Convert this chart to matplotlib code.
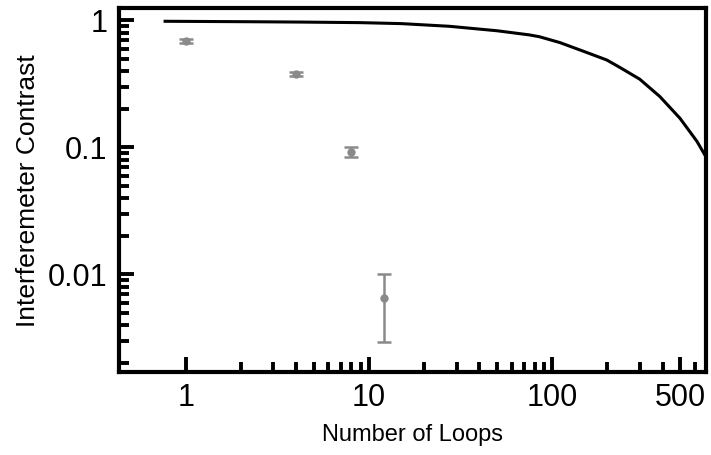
import matplotlib
matplotlib.use('Agg')
import matplotlib.pyplot as plt
from matplotlib.ticker import FixedLocator, NullFormatter

plt.rcParams['font.family'] = ['Liberation Sans', 'DejaVu Sans']

# measured contrast vs number of loops
loops = [1, 4, 8, 12]
contrast = [0.69, 0.379, 0.0927, 0.00656]
contrast_err = [0.022, 0.012, 0.008, 0.0036]

# theory curve
curve_x = [0.77, 2.2, 4.2, 8.9, 15, 27.5, 50, 75, 85, 110, 150, 198, 233,
           300, 386, 497, 615, 689, 720]
curve_y = [0.986, 0.978, 0.972, 0.962, 0.945, 0.90, 0.83, 0.77, 0.745, 0.67,
           0.568, 0.489, 0.428, 0.345, 0.252, 0.170, 0.112, 0.0845, 0.075]

x_major = [1, 10, 100, 500]
x_major_labels = ['1', '10', '100', '500']
y_major = [0.01, 0.1, 1]
y_major_labels = ['0.01', '0.1', '1']

fig = plt.figure(figsize=(7.11, 4.55), dpi=100)
ax = fig.add_axes([0.167, 0.182, 0.826, 0.800])

ax.plot(curve_x, curve_y, color='black', lw=2.2, solid_joinstyle='round')
ax.errorbar(loops, contrast, yerr=contrast_err, fmt='o', color='#8a8a8a',
            ms=5, elinewidth=1.8, capsize=5, capthick=1.8)

ax.set_xscale('log')
ax.set_yscale('log')
ax.set_xlim(0.43, 690)
ax.set_ylim(0.0017, 1.25)

x_minor = [m * d for d in (1, 10, 100) for m in range(2, 10)]
x_minor = [v for v in x_minor if v not in x_major and v < 690]
y_minor = [m * d for d in (0.001, 0.01, 0.1) for m in range(2, 10)]
y_minor = [v for v in y_minor if v > 0.0017]

ax.xaxis.set_major_locator(FixedLocator(x_major))
ax.set_xticklabels(x_major_labels)
ax.xaxis.set_minor_locator(FixedLocator(x_minor))
ax.xaxis.set_minor_formatter(NullFormatter())
ax.yaxis.set_major_locator(FixedLocator(y_major))
ax.set_yticklabels(y_major_labels)
ax.yaxis.set_minor_locator(FixedLocator(y_minor))
ax.yaxis.set_minor_formatter(NullFormatter())

ax.tick_params(which='both', direction='in', width=2.8, top=False, right=False,
               labelsize=22, pad=8)
ax.tick_params(which='major', length=11)
ax.tick_params(which='minor', length=7)
for s in ax.spines.values():
    s.set_linewidth(3)

ax.set_xlabel('Number of Loops', fontsize=17, labelpad=8)
ax.set_ylabel('Interferemeter Contrast', fontsize=19, labelpad=6)

fig.savefig('out.png', dpi=100)
